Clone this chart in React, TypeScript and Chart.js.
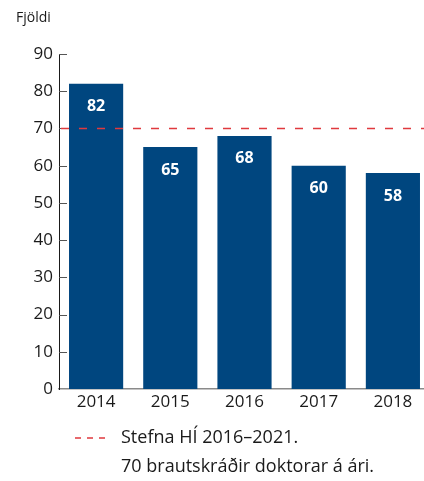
import React, { useEffect, useRef } from "react";
import { Chart, registerables } from "chart.js";

Chart.register(...registerables);

const categories = ["2014", "2015", "2016", "2017", "2018"];
const values = [82, 65, 68, 60, 58];
const targetValue = 70;
const yMin = 0;
const yMax = 90;
const yStep = 10;
const yAxisTitle = "Fjöldi";
const legendLine1 = "Stefna HÍ 2016–2021.";
const legendLine2 = "70 brautskráðir doktorar á ári.";

const BAR_COLOR = "#00467f";
const TARGET_COLOR = "#e0393e";
const TEXT_COLOR = "#1a1a1a";
const FONT = "'Open Sans', 'Noto Sans', sans-serif";

const overlayPlugin = {
  id: "overlay",
  afterDatasetsDraw(chart: any) {
    const { ctx, chartArea } = chart;
    const yScale = chart.scales.y;
    // inner y tick marks
    ctx.save();
    ctx.strokeStyle = "#555";
    ctx.lineWidth = 1;
    for (let v = yMin; v <= yMax; v += yStep) {
      if (v === yMin) continue;
      const y = Math.round(yScale.getPixelForValue(v)) + 0.5;
      ctx.beginPath();
      ctx.moveTo(chartArea.left, y);
      ctx.lineTo(chartArea.left + 8, y);
      ctx.stroke();
    }
    ctx.restore();

    // bar value labels
    const meta = chart.getDatasetMeta(0);
    ctx.save();
    ctx.fillStyle = "#ffffff";
    ctx.font = `bold 16px ${FONT}`;
    ctx.textAlign = "center";
    ctx.textBaseline = "middle";
    meta.data.forEach((bar: any, i: number) => {
      ctx.fillText(String(values[i]), bar.x, bar.y + 23);
    });
    ctx.restore();

    // target dashed line
    const ty = yScale.getPixelForValue(targetValue);
    ctx.save();
    ctx.strokeStyle = TARGET_COLOR;
    ctx.lineWidth = 1.5;
    ctx.setLineDash([8, 10]);
    ctx.beginPath();
    ctx.moveTo(chartArea.left + 2, ty);
    ctx.lineTo(chart.width, ty);
    ctx.stroke();
    ctx.restore();
  },
  afterDraw(chart: any) {
    const { ctx } = chart;
    ctx.save();
    ctx.fillStyle = TEXT_COLOR;
    ctx.font = `14px ${FONT}`;
    ctx.textAlign = "left";
    ctx.textBaseline = "middle";
    ctx.fillText(yAxisTitle, 16, 18);

    ctx.font = `18px ${FONT}`;
    ctx.fillText(legendLine1, 121, 438);
    ctx.fillText(legendLine2, 121, 467);

    ctx.strokeStyle = TARGET_COLOR;
    ctx.lineWidth = 1.5;
    ctx.setLineDash([6, 6]);
    ctx.beginPath();
    ctx.moveTo(75, 438);
    ctx.lineTo(106, 438);
    ctx.stroke();
    ctx.restore();
  },
};

export default function App() {
  const ref = useRef<HTMLCanvasElement>(null);

  useEffect(() => {
    if (!ref.current) return;
    const chart = new Chart(ref.current, {
      type: "bar",
      data: {
        labels: categories,
        datasets: [
          {
            data: values,
            backgroundColor: BAR_COLOR,
            borderWidth: 0,
            categoryPercentage: 0.73,
            barPercentage: 1,
          },
        ],
      },
      options: {
        animation: false,
        responsive: false,
        events: [],
        layout: { padding: { top: 54, right: 10, left: 0, bottom: 0 } },
        plugins: {
          legend: { display: false },
          tooltip: { enabled: false },
          title: { display: false },
        },
        scales: {
          x: {
            grid: { display: false, drawTicks: false },
            border: { display: true, color: "#8a8a8a", width: 1.5 },
            ticks: {
              color: TEXT_COLOR,
              font: { family: FONT, size: 17 },
              padding: 3,
            },
            afterFit: (s: any) => {
              s.height = 92;
            },
          },
          y: {
            min: yMin,
            max: yMax,
            grid: { display: false, drawTicks: false },
            border: { display: true, color: "#1a1a1a", width: 1 },
            ticks: {
              stepSize: yStep,
              color: TEXT_COLOR,
              font: { family: FONT, size: 17 },
              padding: 6,
            },
            afterFit: (s: any) => {
              s.width = 59;
            },
          },
        },
      },
      plugins: [overlayPlugin],
    });
    return () => chart.destroy();
  }, []);

  return (
    <div
      style={{
        position: "fixed",
        left: 0,
        top: 0,
        width: 424,
        height: 481,
        overflow: "hidden",
        background: "#fff",
      }}
    >
      <canvas ref={ref} width={440} height={481} style={{ width: 440, height: 481 }} />
    </div>
  );
}
